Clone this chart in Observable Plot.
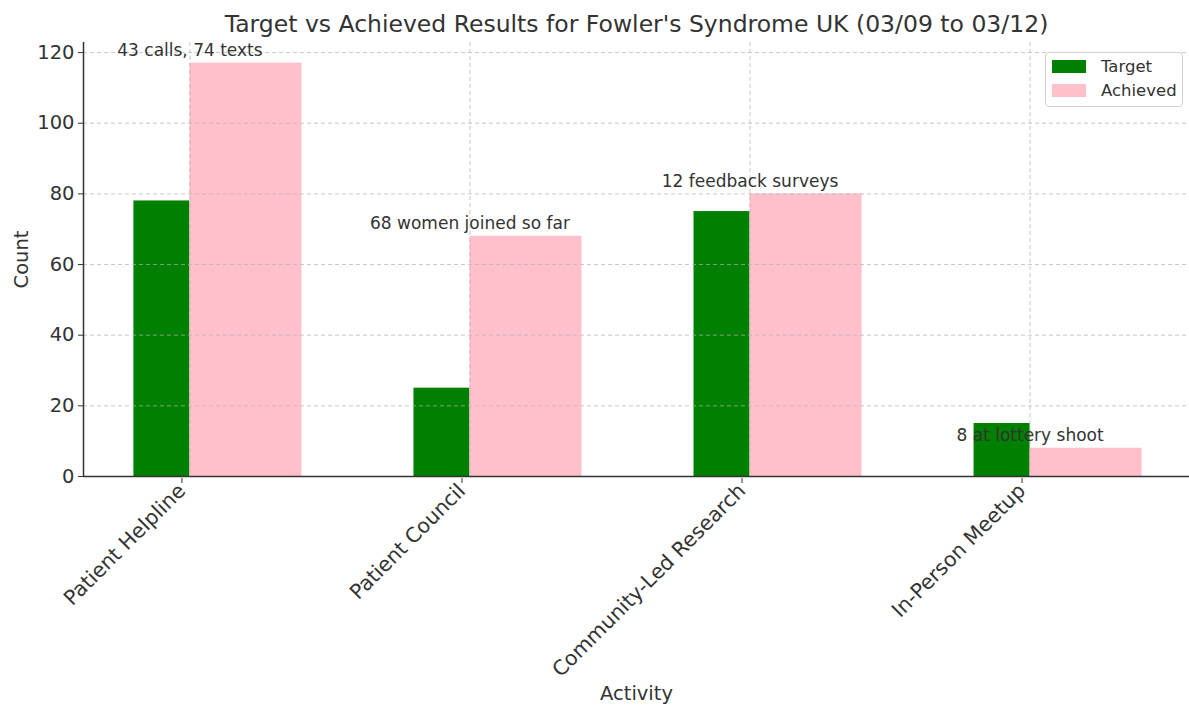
<!DOCTYPE html>
<html>
<head>
<meta charset="utf-8">
<script src="https://cdn.jsdelivr.net/npm/d3@7"></script>
<script src="https://cdn.jsdelivr.net/npm/@observablehq/plot@0.6"></script>
<style>
  html, body { margin: 0; padding: 0; background: #fff; }
  #wrap { position: relative; width: 1189px; height: 708px; font-family: "DejaVu Sans", sans-serif; }
  #legend { position: absolute; left: 1045px; top: 52px; width: 138px; height: 55px; border: 1px solid #d0d0d0; border-radius: 4px; background: rgba(255,255,255,0.85); box-sizing: border-box; }
  .item { position: absolute; left: 6px; display: flex; align-items: center; font-size: 16.5px; color: #333; }
  .sw { width: 34px; height: 13px; margin-right: 15px; }
</style>
</head>
<body>
<div id="wrap">
  <div id="chart"></div>
  <div id="legend"></div>
</div>
<script>
const categories = ["Patient Helpline", "Patient Council", "Community-Led Research", "In-Person Meetup"];
const target = [78, 25, 75, 15];
const achieved = [117, 68, 80, 8];
const notes = ["43 calls, 74 texts", "68 women joined so far", "12 feedback surveys", "8 at lottery shoot"];
const yTicks = [0, 20, 40, 60, 80, 100, 120];
const seriesNames = ["Target", "Achieved"];
const seriesColors = ["green", "pink"];
const title = "Target vs Achieved Results for Fowler's Syndrome UK (03/09 to 03/12)";

const idx = categories.map((_, i) => i);
const textColor = "#333";

const plot = Plot.plot({
  width: 1189,
  height: 708,
  marginLeft: 83,
  marginRight: 0,
  marginTop: 42,
  marginBottom: 232,
  style: { fontFamily: "DejaVu Sans, sans-serif", color: textColor, background: "#fff" },
  x: { type: "linear", domain: [-0.38, 3.58], range: [83, 1192] },
  y: { domain: [0, 122.85] },
  marks: [
    Plot.rect(idx, { x1: i => i - 0.2, x2: i => i, y1: 0, y2: i => target[i], fill: seriesColors[0] }),
    Plot.rect(idx, { x1: i => i, x2: i => i + 0.4, y1: 0, y2: i => achieved[i], fill: seriesColors[1] }),
    Plot.gridY(yTicks, { stroke: "#b0b0b0", strokeOpacity: 0.7, strokeDasharray: "4,3" }),
    Plot.gridX(idx, { stroke: "#b0b0b0", strokeOpacity: 0.7, strokeDasharray: "4,3" }),
    Plot.text(idx, { x: i => i, y: i => achieved[i] + 2, text: i => notes[i], lineAnchor: "bottom", fontSize: 17, fill: textColor }),
    Plot.ruleY([0], { stroke: "#333", strokeWidth: 1.5 }),
    Plot.ruleX([-0.38], { stroke: "#333", strokeWidth: 1.5 }),
    Plot.axisY({ ticks: yTicks, tickSize: 5, tickPadding: 4, fontSize: 19.5, label: "Count", labelAnchor: "center", labelArrow: "none", labelOffset: 69, color: textColor }),
    Plot.axisX({ ticks: idx, tickFormat: i => categories[i], tickRotate: -45, tickSize: 5, tickPadding: 4, fontSize: 20.5, dx: -8, dy: 2, label: null, color: textColor }),
    Plot.text(["Activity"], { frameAnchor: "bottom", dy: 223, fontSize: 19.5, fill: textColor }),
    Plot.text([title], { frameAnchor: "top", dy: -27, fontSize: 23.5, fill: textColor })
  ]
});
document.getElementById("chart").appendChild(plot);

const legend = document.getElementById("legend");
seriesNames.forEach((name, k) => {
  const it = document.createElement("div");
  it.className = "item";
  it.style.top = (4 + k * 24) + "px";
  const sw = document.createElement("div");
  sw.className = "sw";
  sw.style.background = seriesColors[k];
  const t = document.createElement("span");
  t.textContent = name;
  it.appendChild(sw);
  it.appendChild(t);
  legend.appendChild(it);
});
</script>
</body>
</html>
